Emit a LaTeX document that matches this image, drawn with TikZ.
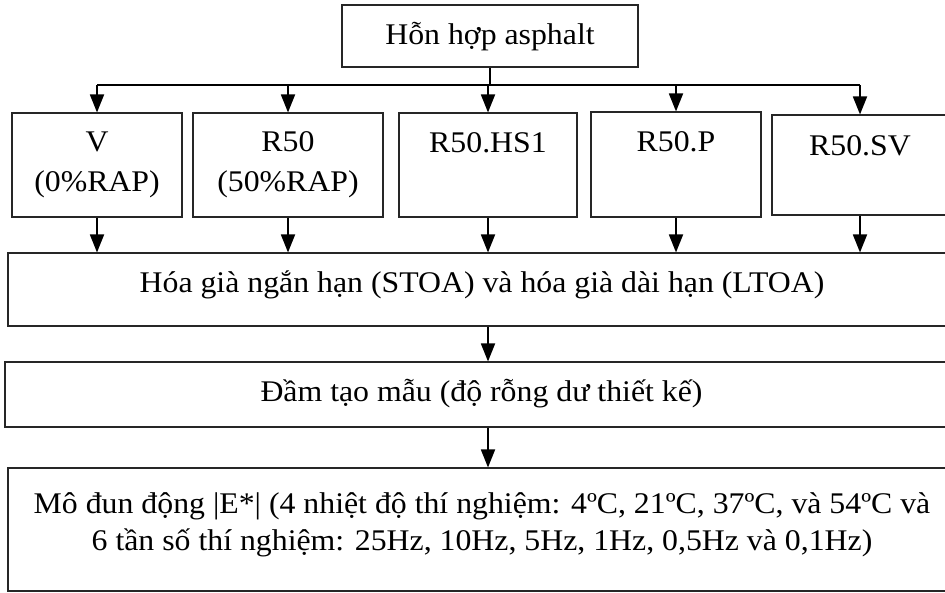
\documentclass[tikz,border=0pt]{standalone}
\usepackage{fontspec}
\setmainfont[FakeStretch=1.06]{Liberation Serif}
\usetikzlibrary{arrows.meta,positioning}

\begin{document}
\begin{tikzpicture}[x=1pt,y=-1pt,>={Triangle[width=14pt,length=18pt]},
  font=\fontsize{30}{40}\selectfont,
  box/.style={draw=black!85,line width=1.1pt,inner sep=0pt,align=center},
  flow/.style={->,line width=1.8pt},
  bus/.style={line width=1.8pt}]
\useasboundingbox (0,0) rectangle (945,592);
\clip (0,0) rectangle (945,592);
% mixture
\node[box,minimum width=296,minimum height=62,label={[anchor=base,yshift=-40pt]north:Hỗn hợp asphalt}] (mix) at (490,36) {};
% five mixes
\node[box,minimum width=170,minimum height=104] (v) at (97,165) {V\\(0\%RAP)};
\node[box,minimum width=190,minimum height=104] (r) at (288,165) {R50\\(50\%RAP)};
\node[box,minimum width=178,minimum height=104,label={[anchor=base,yshift=-40pt]north:R50.HS1}] (hs) at (488,165) {};
\node[box,minimum width=170,minimum height=105,label={[anchor=base,yshift=-40pt]north:R50.P}] (p) at (676,164.5) {};
\node[box,minimum width=176,minimum height=100,label={[anchor=base,yshift=-41pt]north:R50.SV}] (sv) at (860,165) {};
% ageing, compaction, test
\node[box,minimum width=948,minimum height=73,label={[anchor=base,yshift=-40pt]north:Hóa già ngắn hạn (STOA) và hóa già dài hạn (LTOA)}] (aging) at (482,289.5) {};
\node[box,minimum width=953,minimum height=65,label={[anchor=base,yshift=-40pt]north:Đầm tạo mẫu (độ rỗng dư thiết kế)}] (compact) at (481.5,394.5) {};
\node[box,minimum width=948,minimum height=123,text depth=15pt,font=\fontsize{30}{37}\selectfont] (modulus) at (482,529.5) {Mô đun động |E*| (4 nhiệt độ thí nghiệm: 4ºC, 21ºC, 37ºC, và 54ºC và\\6 tần số thí nghiệm: 25Hz, 10Hz, 5Hz, 1Hz, 0,5Hz và 0,1Hz)};
% connectors
\coordinate (bus) at (0,85);
\draw[bus] (mix.south) -- (mix.south |- bus);
\draw[bus] (v.north |- bus) -- (sv.north |- bus);
\foreach \m in {v,r,hs,p,sv}
  \draw[flow] (\m.north |- bus) -- (\m.north);
\foreach \m in {v,r,hs,p,sv}
  \draw[flow] (\m.south) -- (\m.south |- aging.north);
\draw[flow] (aging.south -| hs) -- (compact.north -| hs);
\draw[flow] (compact.south -| hs) -- (modulus.north -| hs);
\end{tikzpicture}
\end{document}
